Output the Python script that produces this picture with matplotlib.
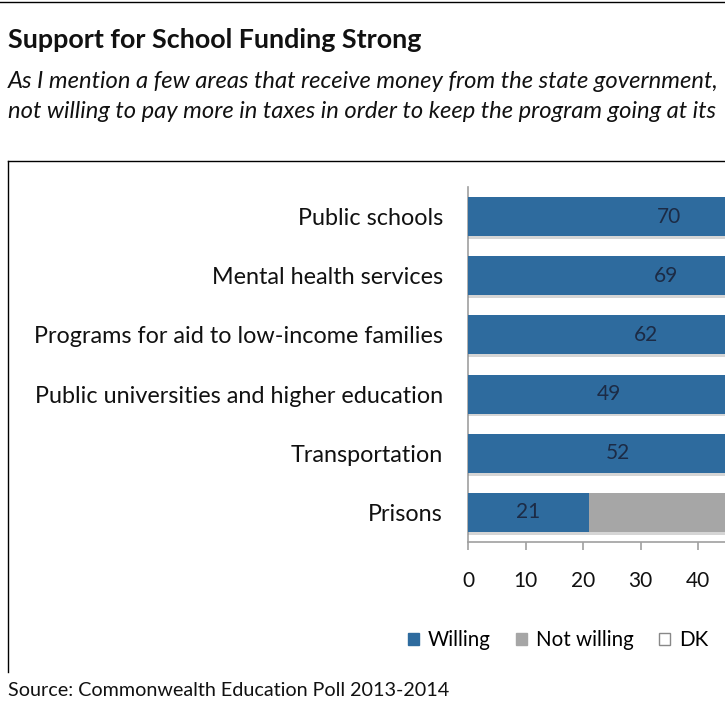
import matplotlib
matplotlib.use("Agg")
import matplotlib.pyplot as plt
from matplotlib.patches import Patch
import matplotlib.patheffects as pe

categories = ["Public schools", "Mental health services",
              "Programs for aid to low-income families",
              "Public universities and higher education",
              "Transportation", "Prisons"]
willing = [70, 69, 62, 49, 52, 21]
not_willing = [27, 27, 34, 47, 44, 75]
dk = [3, 4, 4, 4, 4, 4]
xticks = [0, 10, 20, 30, 40]

title = "Support for School Funding Strong"
subtitle1 = "As I mention a few areas that receive money from the state government,"
subtitle2 = "not willing to pay more in taxes in order to keep the program going at its"
source = "Source: Commonwealth Education Poll 2013-2014"

FONT = "Lato"
plt.rcParams['font.family'] = [FONT, 'DejaVu Sans']

W, H = 725, 703
fig = plt.figure(figsize=(W / 100, H / 100), dpi=100)

# page decoration lines
fig.add_artist(plt.Line2D([0, 1], [1 - 2 / H, 1 - 2 / H], color="black", lw=1.0))
fig.add_artist(plt.Line2D([8 / W, 8 / W], [1 - 161 / H, 1 - 672 / H], color="black", lw=1.0))
fig.add_artist(plt.Line2D([8 / W, 1], [1 - 161 / H, 1 - 161 / H], color="black", lw=1.0))

fig.text(8 / W, 1 - 40 / H, title, fontsize=19.4, fontweight="bold", va="center", ha="left", color="#111111")
fig.text(8 / W, 1 - 82 / H, subtitle1, fontsize=17.1, style="italic", va="center", ha="left", color="#111111")
fig.text(8 / W, 1 - 112 / H, subtitle2, fontsize=17.1, style="italic", va="center", ha="left", color="#111111")
fig.text(8 / W, 1 - 690 / H, source, fontsize=14.2, va="center", ha="left", color="#111111")

ax_left = 468 / W
ax_width = 575 / W
ax_top = 187
ax_bot = 542
ax = fig.add_axes([ax_left, 1 - ax_bot / H, ax_width, (ax_bot - ax_top) / H])

y = list(range(len(categories)))
blue = "#2E6B9E"
grey = "#A6A6A6"
shadow = [pe.SimplePatchShadow(offset=(0, -2), shadow_rgbFace="#888888", alpha=0.35), pe.Normal()]
b1 = ax.barh(y, willing, height=0.66, color=blue, path_effects=shadow, zorder=3)
left2 = willing
b2 = ax.barh(y, not_willing, left=left2, height=0.66, color=grey, path_effects=shadow, zorder=3)
left3 = [a + b for a, b in zip(willing, not_willing)]
b3 = ax.barh(y, dk, left=left3, height=0.66, color="white", edgecolor="#A0A0A0", zorder=3)

for yi, v in zip(y, willing):
    ax.text(v / 2, yi, str(v), ha="center", va="center", fontsize=15, color="#1C2B45", zorder=4)

ax.set_xlim(0, 100)
ax.set_ylim(len(categories) - 0.5, -0.5)
ax.set_yticks(y)
ax.set_yticklabels(categories, fontsize=16.8, color="#111111")
ax.tick_params(axis="y", length=0, pad=18)
ax.set_xticks(xticks)
ax.set_xticklabels([str(t) for t in xticks], fontsize=15, color="#111111")
ax.tick_params(axis="x", length=6, width=1.2, color="#A0A0A0", direction="out", pad=15)
for s in ["top", "right"]:
    ax.spines[s].set_visible(False)
for s in ["left", "bottom"]:
    ax.spines[s].set_color("#A0A0A0")
    ax.spines[s].set_linewidth(1.2)

handles = [Patch(facecolor=blue, edgecolor=blue),
           Patch(facecolor=grey, edgecolor=grey),
           Patch(facecolor="white", edgecolor="#888888")]
fig.legend(handles, ["Willing", "Not willing", "DK"], loc="center left",
           bbox_to_anchor=(394 / W, 1 - 640 / H), ncol=3, frameon=False,
           fontsize=14.8, handlelength=0.5, handleheight=0.5, handletextpad=0.45,
           columnspacing=1.25, borderpad=0.2)

fig.savefig("out.png", dpi=100)
